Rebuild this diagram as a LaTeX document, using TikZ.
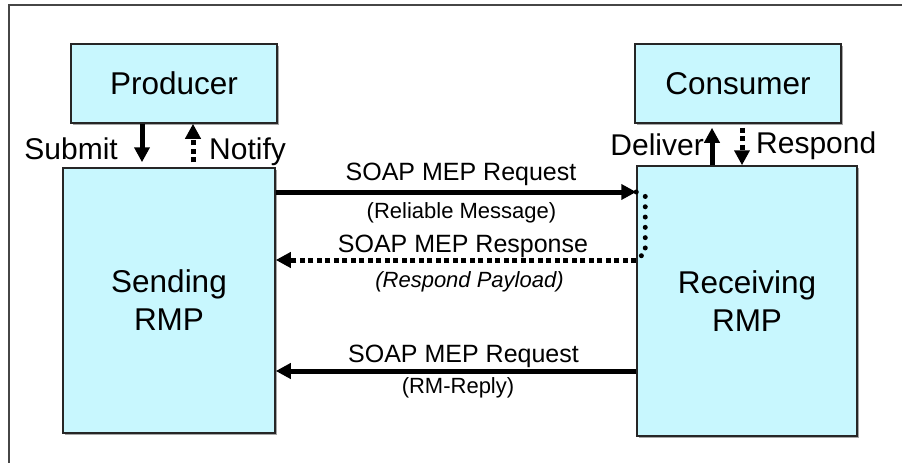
\documentclass[tikz,border=0pt]{standalone}
\usepackage{fontspec}
\setmainfont{Liberation Sans}
\usetikzlibrary{positioning,arrows.meta,shadows}
\definecolor{boxfill}{RGB}{200,247,254}
\definecolor{framegray}{RGB}{70,70,70}

\tikzset{
  box/.style={draw=black!85, line width=1.5pt, fill=boxfill, align=center,
    inner sep=0pt, font=\fontsize{31.5}{38}\selectfont,
    drop shadow={shadow xshift=1.5pt, shadow yshift=-1.5pt, fill=gray!70, opacity=1}},
  side/.style={inner sep=0pt, font=\fontsize{30}{36}\selectfont},
  msg/.style={inner sep=0pt, font=\fontsize{25}{30}\selectfont},
  note/.style={inner sep=0pt, font=\fontsize{22}{26}\selectfont},
  solidarrow/.style={line width=5pt, -{Triangle[length=15pt,width=15pt]}},
  dasharrow/.style={line width=5pt, dash pattern=on 5pt off 3.5pt,
    -{Triangle[length=15pt,width=15pt]}},
  dotline/.style={line width=5pt, line cap=round, dash pattern=on 0pt off 10.3pt}
}

\begin{document}
\begin{tikzpicture}[x=1pt,y=-1pt]
\useasboundingbox (0,0) rectangle (902,463);

% frame
\draw[framegray, line width=1.5pt] (9,470) |- (910,5);

% boxes
\node[box, minimum width=206pt, minimum height=79pt] (prod) at (174,83.5) {Producer};
\node[box, minimum width=206pt, minimum height=79pt] (cons) at (738,83.5) {Consumer};
\node[box, minimum width=212pt, minimum height=265pt] (send) at (169,300.5) {Sending\\RMP};
\node[box, minimum width=220pt, minimum height=270pt] (recv) at (747,301) {Receiving\\RMP};

% producer side
\draw[solidarrow, shorten >=5pt] ([xshift=-32pt]prod.south) -- ([xshift=-32pt]prod.south |- send.north);
\draw[dasharrow, shorten <=5pt] ([xshift=19pt]prod.south |- send.north) -- ([xshift=19pt]prod.south);
\node[side, anchor=base east] (submit) at (118,159) {Submit};
\node[side, anchor=base west] (notify) at (209,159) {Notify};

% consumer side
\draw[solidarrow, shorten >=4pt] ([xshift=-26pt]cons.south |- recv.north) -- ([xshift=-26pt]cons.south);
\draw[dasharrow, shorten <=4pt] ([xshift=4pt]cons.south) -- ([xshift=4pt]cons.south |- recv.north);
\node[side, anchor=base east] (deliver) at (704,155) {Deliver};
\node[side, anchor=base west] (respond) at (756,153) {Respond};

% messages
\draw[solidarrow] (send.east |- 0,192) -- (recv.west |- 0,192);
\draw[dotline] (recv.west |- 0,192) -- ++(9,4) -- ++(0,58) -- (recv.west |- 0,258);
\draw[dasharrow] (recv.west |- 0,260) -- (send.east |- 0,260);
\draw[solidarrow] (recv.west |- 0,371) -- (send.east |- 0,371);

\node[msg, anchor=base] (req) at (461,180) {SOAP MEP Request};
\node[note, anchor=base] (relmsg) at (461.5,218) {(Reliable Message)};
\node[msg, anchor=base] (resp) at (463,252) {SOAP MEP Response};
\node[note, anchor=base] (payload) at (469.5,287.5) {\itshape (Respond Payload)};
\node[msg, anchor=base] (rmreq) at (463.5,362) {SOAP MEP Request};
\node[note, anchor=base] (rmreply) at (458,393.5) {(RM-Reply)};
\end{tikzpicture}
\end{document}
